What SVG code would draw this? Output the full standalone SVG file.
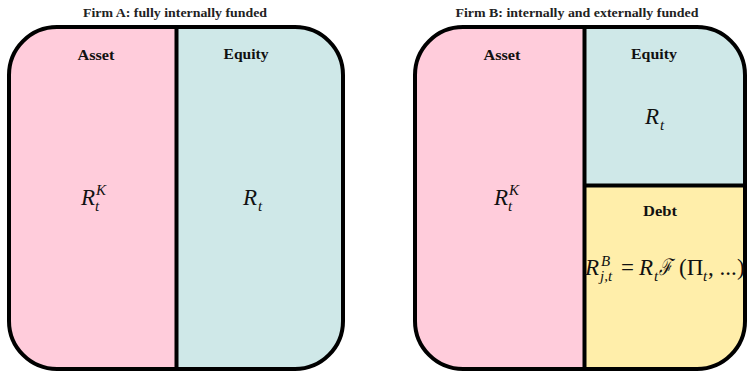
<svg xmlns="http://www.w3.org/2000/svg" width="748" height="372" viewBox="0 0 748 372">
<style>
.title{font-family:"Liberation Serif","DejaVu Serif",serif;font-weight:bold;font-size:13px;fill:#222;text-anchor:middle}
.lbl{font-family:"Liberation Serif","DejaVu Serif",serif;font-weight:bold;font-size:15px;fill:#111;text-anchor:middle}
.m{font-family:"Liberation Serif","DejaVu Serif",serif;font-style:italic;font-size:23px;fill:#111}
.sub{font-size:15px}
.up{font-style:normal}
.outline{fill:none;stroke:#000;stroke-width:4}
.div{stroke:#000;stroke-width:4}
.asset{fill:#FFCCDB}
.equity{fill:#CFE8E8}
.debt{fill:#FFEEAA}
</style>
<defs>
<clipPath id="clipA"><rect x="9" y="27" width="334" height="342" rx="48" ry="48"/></clipPath>
<clipPath id="clipB"><rect x="415" y="27" width="330" height="342" rx="48" ry="48"/></clipPath>
</defs>
<text class="title" x="175" y="17" textLength="184" lengthAdjust="spacingAndGlyphs">Firm A: fully internally funded</text>
<text class="title" x="577" y="17" textLength="243" lengthAdjust="spacingAndGlyphs">Firm B: internally and externally funded</text>
<g id="firmA">
<g clip-path="url(#clipA)">
<rect class="asset" x="0" y="20" width="176.5" height="352"/>
<rect class="equity" x="176.5" y="20" width="180" height="352"/>
</g>
<line class="div" x1="176.5" y1="27" x2="176.5" y2="369"/>
<rect class="outline" x="9" y="27" width="334" height="342" rx="48" ry="48"/>
<g id="A-asset">
<text class="lbl" x="96" y="60" textLength="37" lengthAdjust="spacingAndGlyphs">Asset</text>
<text class="m" x="81" y="205">R<tspan class="sub" dx="1" dy="-10">K</tspan><tspan class="sub" dx="-11" dy="16">t</tspan></text>
</g>
<g id="A-equity">
<text class="lbl" x="246" y="59" textLength="45" lengthAdjust="spacingAndGlyphs">Equity</text>
<text class="m" x="243" y="205">R<tspan class="sub" dx="1" dy="6">t</tspan></text>
</g>
</g>
<g id="firmB">
<g clip-path="url(#clipB)">
<rect class="asset" x="405" y="20" width="179.5" height="352"/>
<rect class="equity" x="584.5" y="20" width="170" height="165.5"/>
<rect class="debt" x="584.5" y="185.5" width="170" height="190"/>
</g>
<line class="div" x1="584.5" y1="27" x2="584.5" y2="369"/>
<line class="div" x1="584.5" y1="185.5" x2="745" y2="185.5"/>
<rect class="outline" x="415" y="27" width="330" height="342" rx="48" ry="48"/>
<g id="B-asset">
<text class="lbl" x="502" y="60" textLength="37" lengthAdjust="spacingAndGlyphs">Asset</text>
<text class="m" x="494" y="205">R<tspan class="sub" dx="1" dy="-10">K</tspan><tspan class="sub" dx="-11" dy="16">t</tspan></text>
</g>
<g id="B-equity">
<text class="lbl" x="654" y="59" textLength="46" lengthAdjust="spacingAndGlyphs">Equity</text>
<text class="m" x="645" y="124">R<tspan class="sub" dx="1" dy="6">t</tspan></text>
</g>
<g id="B-debt">
<text class="lbl" x="660" y="216" textLength="34" lengthAdjust="spacingAndGlyphs">Debt</text>
<text class="m" x="585" y="275">R</text>
<text class="m sub" x="601" y="266">B</text>
<text class="m sub" x="600" y="281">j,t</text>
<text class="m up" x="621" y="275">=</text>
<text class="m" x="639" y="275">R</text>
<text class="m sub" x="654" y="281">t</text>
<text class="m" x="659" y="275" font-size="19" textLength="13" lengthAdjust="spacingAndGlyphs">ℱ</text>
<text class="m up" x="679" y="275">(Π</text>
<text class="m sub" x="703" y="281">t</text>
<text class="m up" x="708" y="275">, ...</text>
<text class="m up" x="737" y="275">)</text>
</g>
</g>
</svg>
